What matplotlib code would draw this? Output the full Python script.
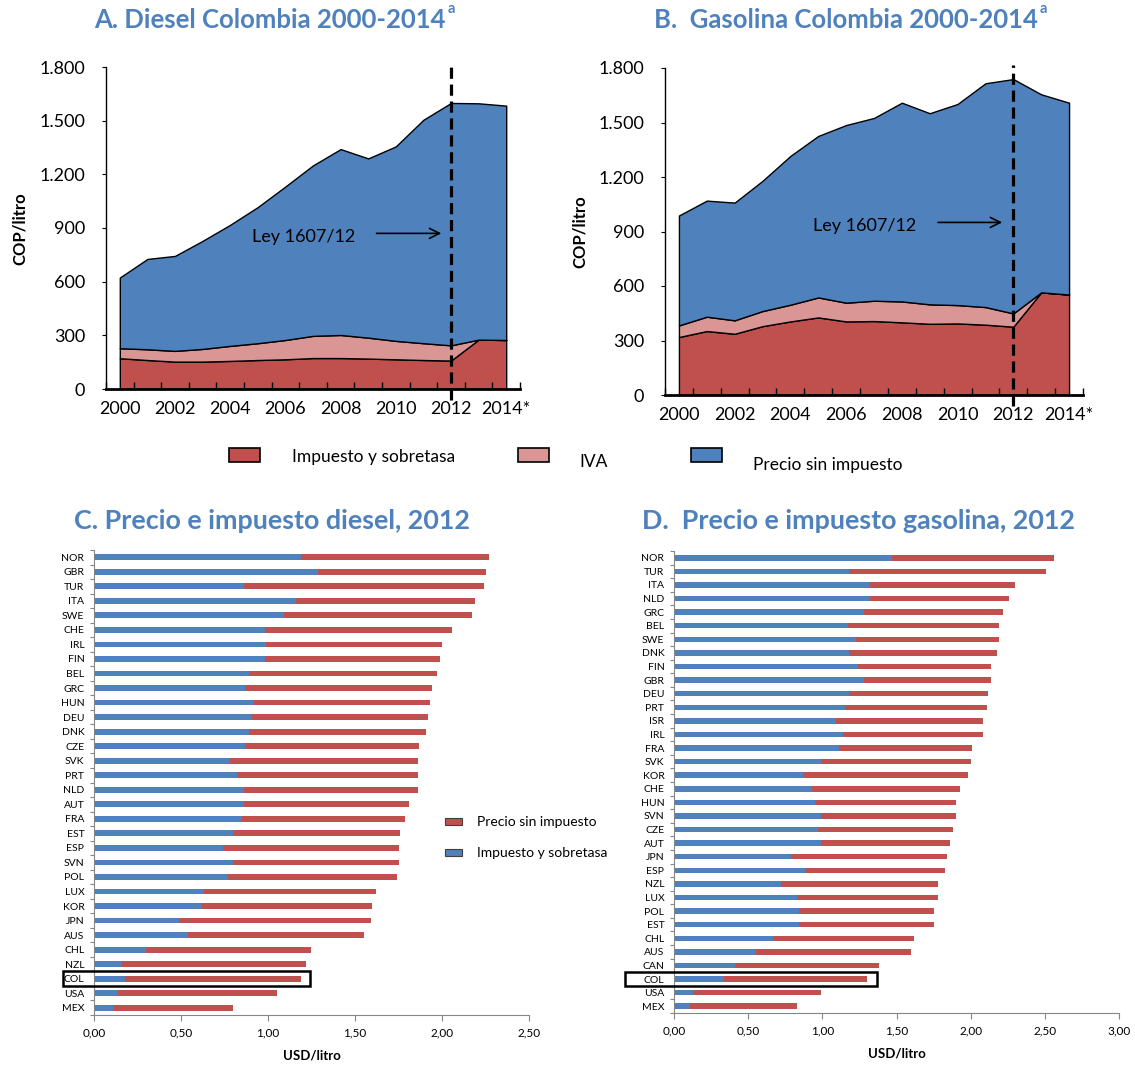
import matplotlib
matplotlib.use("Agg")
import matplotlib.pyplot as plt
import numpy as np
from matplotlib.patches import Rectangle
from matplotlib.ticker import FuncFormatter, NullFormatter

plt.rcParams["font.family"] = ["Lato", "DejaVu Sans"]

BLUE = "#4F81BD"
RED = "#C0504D"
PINK = "#D99694"
GRAY = "#868686"

# ---- panels A / B: COP per litre, 2000-2014 ----
years = [2000, 2001, 2002, 2003, 2004, 2005, 2006, 2007,
         2008, 2009, 2010, 2011, 2012, 2013, 2014]
label_years = [2000, 2002, 2004, 2006, 2008, 2010, 2012, 2014]
year_labels = ["2000", "2002", "2004", "2006", "2008", "2010", "2012", "2014*"]
ley_year = 2012

diesel_impuesto = [172, 162, 153, 153, 157, 162, 166, 173, 173, 170, 166, 162, 159, 276, 274]
diesel_iva = [56, 60, 60, 71, 84, 94, 108, 124, 129, 117, 103, 94, 85, 0, 0]
diesel_precio = [395, 505, 531, 604, 677, 761, 858, 953, 1039, 1002, 1087, 1249, 1355, 1321, 1310]

gas_impuesto = [319, 352, 337, 379, 405, 427, 405, 407, 400, 392, 394, 387, 376, 565, 553]
gas_iva = [64, 79, 74, 83, 92, 110, 103, 112, 115, 107, 101, 97, 73, 0, 0]
gas_precio = [605, 639, 648, 717, 819, 889, 978, 1006, 1094, 1052, 1107, 1232, 1290, 1090, 1056]

# ---- panel C: diesel 2012, USD per litre ----
diesel_paises = ["NOR", "GBR", "TUR", "ITA", "SWE", "CHE", "IRL", "FIN", "BEL", "GRC",
                 "HUN", "DEU", "DNK", "CZE", "SVK", "PRT", "NLD", "AUT", "FRA", "EST",
                 "ESP", "SVN", "POL", "LUX", "KOR", "JPN", "AUS", "CHL", "NZL", "COL",
                 "USA", "MEX"]
diesel_imp_2012 = [1.19, 1.29, 0.86, 1.16, 1.09, 0.98, 0.99, 0.98, 0.89, 0.87,
                   0.92, 0.91, 0.89, 0.87, 0.78, 0.82, 0.86, 0.86, 0.85, 0.80,
                   0.74, 0.80, 0.77, 0.63, 0.62, 0.49, 0.54, 0.30, 0.16, 0.18,
                   0.14, 0.11]
diesel_precio_2012 = [1.08, 0.96, 1.38, 1.03, 1.08, 1.08, 1.01, 1.01, 1.08, 1.07,
                      1.01, 1.01, 1.02, 1.00, 1.08, 1.04, 1.00, 0.95, 0.94, 0.96,
                      1.01, 0.95, 0.97, 0.99, 0.98, 1.10, 1.01, 0.95, 1.06, 1.01,
                      0.91, 0.69]

# ---- panel D: gasoline 2012, USD per litre ----
gas_paises = ["NOR", "TUR", "ITA", "NLD", "GRC", "BEL", "SWE", "DNK", "FIN", "GBR",
              "DEU", "PRT", "ISR", "IRL", "FRA", "SVK", "KOR", "CHE", "HUN", "SVN",
              "CZE", "AUT", "JPN", "ESP", "NZL", "LUX", "POL", "EST", "CHL", "AUS",
              "CAN", "COL", "USA", "MEX"]
gas_imp_2012 = [1.47, 1.18, 1.32, 1.32, 1.28, 1.17, 1.23, 1.18, 1.24, 1.28,
                1.18, 1.15, 1.09, 1.14, 1.11, 0.99, 0.87, 0.93, 0.95, 0.99,
                0.97, 0.99, 0.79, 0.88, 0.72, 0.83, 0.84, 0.84, 0.67, 0.55,
                0.41, 0.34, 0.13, 0.11]
gas_precio_2012 = [1.09, 1.33, 0.98, 0.94, 0.94, 1.02, 0.96, 1.00, 0.90, 0.86,
                   0.94, 0.96, 0.99, 0.94, 0.90, 1.01, 1.11, 1.00, 0.95, 0.91,
                   0.91, 0.87, 1.05, 0.95, 1.06, 0.95, 0.91, 0.91, 0.95, 1.05,
                   0.97, 0.96, 0.86, 0.72]

W, H = 1135, 1065
fig = plt.figure(figsize=(W / 100, H / 100), dpi=100)


def box(left, top, right, bottom):
    return [left / W, 1 - bottom / H, (right - left) / W, (bottom - top) / H]


def fig_text(x, y, s, **kw):
    return fig.text(x / W, 1 - y / H, s, **kw)


def title(x, y, s, sup=None, size=18.5):
    t = fig_text(x, y, s, ha="center", va="center", fontsize=size,
                 fontweight="bold", color=BLUE)
    if sup:
        fig.axes[0].annotate(sup, xy=(1.0, 1.0), xycoords=t, xytext=(1, 4),
                             textcoords="offset points", ha="left", va="top",
                             fontsize=10.5, fontweight="bold", color=BLUE,
                             annotation_clip=False)


def area_panel(rect, imp, iva, precio, txt_xy, arrow_x):
    ax = fig.add_axes(rect)
    ax.stackplot(years, imp, iva, precio, colors=[RED, PINK, BLUE],
                 edgecolor="black", linewidth=1.0)
    ax.set_xlim(1999.5, 2014.5)
    ax.set_ylim(0, 1800)
    ax.set_yticks(range(0, 1801, 300))
    ax.yaxis.set_major_formatter(FuncFormatter(lambda v, p: f"{v:,.0f}".replace(",", ".")))
    ax.tick_params(axis="y", direction="out", length=3, pad=12, labelsize=13)
    ax.set_xticks(np.arange(1999.5, 2015, 1))
    ax.xaxis.set_major_formatter(NullFormatter())
    ax.tick_params(axis="x", which="major", direction="in", length=5, width=1)
    ax.set_xticks(label_years, minor=True)
    ax.set_xticklabels(year_labels, minor=True)
    ax.tick_params(axis="x", which="minor", length=0, pad=9, labelsize=13)
    for s in ("top", "right"):
        ax.spines[s].set_visible(False)
    ax.spines["bottom"].set_linewidth(2)
    ax.spines["left"].set_linewidth(1)
    ax.axvline(ley_year, ymin=-0.035, ymax=1.01, color="black", lw=2.3,
               linestyle=(0, (3.5, 1.8)), clip_on=False, zorder=5)
    ax.text(txt_xy[0], txt_xy[1], "Ley 1607/12", ha="center", va="center", fontsize=13)
    ax.annotate("", xy=(arrow_x[1], txt_xy[1] + 20), xytext=(arrow_x[0], txt_xy[1] + 20),
                arrowprops=dict(arrowstyle="->", lw=1.2, color="black", mutation_scale=18))
    return ax


def bar_panel(rect, paises, imp, precio, xmax, hl_x, hl_w):
    ax = fig.add_axes(rect)
    pos = np.arange(len(paises))
    ax.barh(pos, imp, height=0.4, color=BLUE)
    ax.barh(pos, precio, left=imp, height=0.4, color=RED)
    ax.set_ylim(len(paises) - 0.5, -0.5)
    ax.set_xlim(0, xmax)
    ax.set_xticks(np.arange(0, xmax + 0.01, 0.5))
    ax.xaxis.set_major_formatter(FuncFormatter(lambda v, p: f"{v:.2f}".replace(".", ",")))
    ax.set_yticks(np.arange(-0.5, len(paises), 1))
    ax.yaxis.set_major_formatter(NullFormatter())
    ax.set_yticks(pos, minor=True)
    ax.set_yticklabels(paises, minor=True)
    ax.tick_params(axis="y", which="major", direction="out", length=3, color=GRAY)
    ax.tick_params(axis="y", which="minor", length=0, pad=7, labelsize=7.5)
    ax.tick_params(axis="x", direction="out", length=4, color=GRAY, pad=5, labelsize=8.5)
    for s in ("top", "right"):
        ax.spines[s].set_visible(False)
    for s in ("left", "bottom"):
        ax.spines[s].set_color(GRAY)
    ax.set_xlabel("USD/litro", fontsize=9.5, fontweight="bold", labelpad=8)
    col = paises.index("COL")
    ax.add_patch(Rectangle((hl_x, col - 0.5), hl_w, 1.0, fill=False,
                           edgecolor="black", lw=1.8, clip_on=False, zorder=6))
    return ax


area_panel(box(106, 67, 520, 389), diesel_impuesto, diesel_iva, diesel_precio,
           (2006.67, 850), (2009.2, 2011.75))
area_panel(box(665, 68, 1083, 395), gas_impuesto, gas_iva, gas_precio,
           (2006.65, 930), (2009.2, 2011.7))

fig_text(20, 229, "COP/litro", rotation=90, ha="center", va="center",
         fontsize=12, fontweight="bold")
fig_text(580, 232, "COP/litro", rotation=90, ha="center", va="center",
         fontsize=12, fontweight="bold")

title(270, 20, "A. Diesel Colombia 2000-2014", sup="a")
title(846, 20, "B.  Gasolina Colombia 2000-2014", sup="a")

# shared legend row for A and B
for (x0, col, lab, tx, ty) in [(229, RED, "Impuesto y sobretasa", 292, 457),
                               (518, PINK, "IVA", 579, 462),
                               (691, BLUE, "Precio sin impuesto", 753, 465)]:
    fig.add_artist(Rectangle((x0 / W, 1 - 462 / H), 31 / W, 14 / H, facecolor=col,
                             edgecolor="black", lw=1.2, transform=fig.transFigure))
    fig_text(tx, ty, lab, ha="left", va="center", fontsize=12.5)

bar_panel(box(94, 550, 529, 1015), diesel_paises, diesel_imp_2012, diesel_precio_2012,
          2.5, -0.18, 1.42)
bar_panel(box(674, 551, 1119, 1013), gas_paises, gas_imp_2012, gas_precio_2012,
          3.0, -0.33, 1.70)

title(272, 521, "C. Precio e impuesto diesel, 2012", size=19.4)
title(858, 521, "D.  Precio e impuesto gasolina, 2012", size=19.4)

# legend of panel C
for (col, lab, y) in [(RED, "Precio sin impuesto", 822), (BLUE, "Impuesto y sobretasa", 853)]:
    fig.add_artist(Rectangle((445 / W, 1 - (y + 3) / H), 17 / W, 7 / H, facecolor=col,
                             edgecolor="#404040", lw=0.8, transform=fig.transFigure))
    fig_text(477, y, lab, ha="left", va="center", fontsize=10)

fig.savefig("out.png", dpi=100)
